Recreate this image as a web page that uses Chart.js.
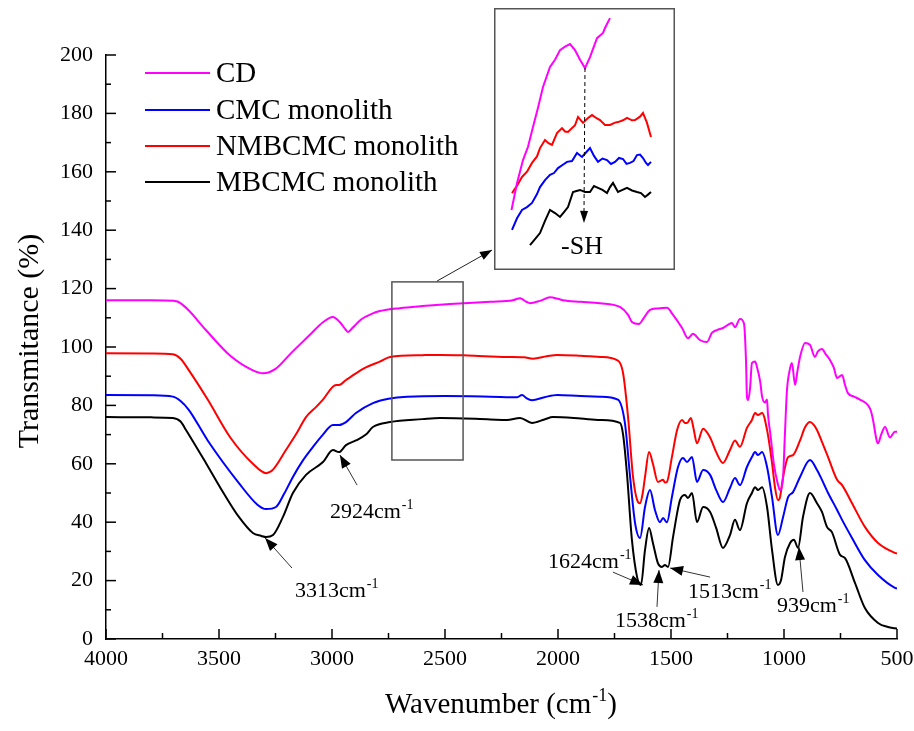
<!DOCTYPE html>
<html><head><meta charset="utf-8">
<script src="https://cdn.jsdelivr.net/npm/chart.js@4"></script>
<style>
html,body{margin:0;padding:0;background:#fff;}
#wrap{position:relative;width:914px;height:731px;overflow:hidden;}
#main{position:absolute;left:0;top:0;}
#inset{position:absolute;left:494px;top:8px;}
</style></head><body>
<div id="wrap"><canvas id="main" width="914" height="731"></canvas><canvas id="inset" width="181" height="262"></canvas></div>
<script>
const FONT = '"Liberation Serif","Times New Roman",serif';

const seriesNames = ['CD', 'CMC monolith', 'NMBCMC monolith', 'MBCMC monolith'];
const seriesColors = ['#ff00ff', '#0000ff', '#ff0000', '#000000'];

const xTickValues = [4000, 3500, 3000, 2500, 2000, 1500, 1000, 500];
const yTickValues = [0, 20, 40, 60, 80, 100, 120, 140, 160, 180, 200];

// CD (magenta)
const cdWn = [4000,3800,3700,3681,3640,3560,3450,3350,3305,3250,3180,3100,3040,2996,2965,2940,2929,2910,2870,2820,2788,2700,2600,2478,2300,2200,2168,2140,2124,2080,2035,2000,1978,1900,1814,1726,1690,1673,1642,1620,1593,1560,1518,1491,1451,1425,1403,1372,1341,1319,1297,1270,1230,1217,1195,1177,1168,1164,1159,1150,1142,1128,1119,1105,1097,1084,1075,1071,1060,1045,1027,1018,1010,1004,996,987,975,965,951,940,929,907,885,863,850,832,815,796,780,765,743,730,717,690,664,628,615,606,590,584,570,553,531,509,500];
const cdT  = [116,116,115.8,115.5,113,106,97,92,91,92.5,98,104,108.5,110.3,108.5,106,105.1,106.5,109.5,111.5,112.3,113.3,114,114.7,115.5,116,116.7,115.5,115,115.8,117,116.5,116,115.5,115,113.7,111,108.6,107.9,110,112.7,113.2,113.4,111,106.5,103,104.5,102.4,101.7,104.8,105.8,106.5,108.2,106.8,109.6,108,95,83,81.8,86,94.5,95,93,88,83,81,82,77,70,60,53,51,52,55.5,70,85,92,94.5,87,92,96.6,101.4,100.7,96.6,98.5,99.3,97.5,95.5,93,89.4,90.4,87,84.2,83,82,80,78,75,68,67,70,72.6,69,71,71];

// CMC monolith (blue)
const cmcWn = [4000,3800,3704,3670,3633,3550,3412,3330,3292,3248,3210,3173,3130,3084,3040,2996,2969,2938,2894,2819,2750,2668,2500,2300,2180,2159,2140,2115,2060,2004,1900,1814,1735,1704,1681,1659,1637,1615,1593,1571,1549,1535,1518,1496,1469,1447,1429,1407,1385,1358,1327,1300,1270,1239,1217,1195,1164,1142,1128,1115,1097,1075,1053,1027,1004,982,960,929,885,854,832,805,765,743,699,642,584,509,500];
const cmcT  = [83.6,83.5,83,81.5,78.4,68,53.4,46,44.5,45.2,50,55.5,61,65.8,70,73.3,73.3,74.3,77.4,80.8,82.3,83,83.2,83,82.8,83.6,82.5,81.8,82.8,83.6,83.2,83,82,74,55.5,39.7,34.6,45.2,51,44.2,40,41.4,40,48.6,58.9,62,60.6,62.3,53.8,57.9,56.2,51,46.9,51.7,55.1,52.7,58.9,62.3,64,63,64,58.9,48.6,35.6,41.8,48.6,50.3,55.5,61.3,57.9,54.5,50,44.2,40.8,34.6,27,21.9,17.5,17.3];

// NMBCMC monolith (red)
const nmbWn = [4000,3800,3704,3670,3633,3550,3450,3350,3292,3261,3204,3160,3115,3070,3040,2982,2969,2938,2894,2850,2789,2743,2600,2522,2400,2226,2150,2111,2050,2004,1900,1814,1739,1712,1690,1668,1645,1637,1625,1615,1597,1580,1558,1535,1527,1518,1496,1473,1451,1438,1429,1412,1400,1385,1358,1327,1300,1270,1239,1217,1195,1164,1142,1128,1115,1097,1075,1053,1040,1027,1018,1004,982,960,929,907,885,870,854,832,805,765,743,699,642,584,509,500];
const nmbT  = [97.9,97.8,97.5,96,92,82,69,60,56.8,58,64.7,70,76,79.5,82,87,87,88.7,91,93,95,96.6,97.2,97.3,97.1,96.6,96.5,96,96.8,97.3,97,96.6,95.5,91,76,55.5,46.8,46.5,50,55.5,64,60,53.8,54.5,53.6,53.8,62.3,71.6,75,74,74,75.7,72,67,72,69,64,60.3,64.7,68,65.8,72.3,75,77.4,76.7,77.4,71.6,60.3,52,47.6,48.5,55.5,62.3,63,68,72.5,74.3,73.5,71.6,67.5,62.3,54.5,52.7,46.5,38.4,32.9,29.5,29.3];

// MBCMC monolith (black)
const mbWn = [4000,3800,3704,3670,3646,3558,3480,3412,3350,3313,3292,3261,3217,3173,3115,3040,2996,2969,2938,2894,2850,2819,2743,2600,2522,2300,2226,2168,2115,2060,2022,1900,1814,1726,1712,1695,1673,1650,1633,1615,1597,1580,1558,1540,1527,1513,1491,1460,1438,1425,1407,1385,1358,1327,1300,1270,1239,1217,1195,1164,1142,1128,1115,1097,1075,1053,1027,1013,996,973,956,938,916,885,854,832,810,788,752,730,686,642,584,540,509,500];
const mbT  = [76,75.9,75.7,74.5,71.6,60.3,50,41.8,36.3,35.3,34.9,35.6,41.8,50,56.2,60.6,64.7,64,66.4,68,70,72.6,74.3,75.3,75.7,75.2,75,75.7,74,75.2,76,75.5,75,74,70,56.8,34,21.2,18.5,30.5,38,32.9,26,24.7,25.3,24.7,34.9,47.6,49.3,48.3,50,40,45.2,43.5,38,31.2,35.6,40.8,37.3,46.5,50,52,51,52,45.2,30.5,18.5,20.2,28,32.9,34,31.2,41.8,50,46.5,43.5,38.4,36.6,28.8,27.7,19.2,10.6,5.5,4.1,3.7,3.6];

// Inset (zoom of the 2735-2420 cm-1 window, relative scale)
const insetCdWn = [2727,2716,2704,2694,2684,2674,2664,2650,2640,2630,2620,2610,2600,2590,2580,2570,2556,2544,2540,2530];
const insetCdT  = [22.7,33,41.9,47,54.6,62,70,77.7,80.5,84.2,85.5,86.5,84.2,80.5,77.3,81.5,88.8,90.8,92.7,96.5];
const insetNmbWn = [2726,2716,2706,2696,2686,2676,2670,2660,2653,2646,2636,2626,2620,2614,2600,2594,2584,2574,2566,2556,2550,2540,2530,2520,2514,2504,2496,2486,2480,2470,2464,2460,2456,2448];
const insetNmbT  = [29.2,32,35.4,37.4,40.8,43.3,46.5,49.6,48.4,47.7,52.3,54.2,52.9,52.7,55.3,58.5,56.2,58.1,59.2,57.9,57.3,55.4,55.4,56.3,56.5,57.2,58.1,57.2,57.3,58.6,60,58.1,56.2,50.8];
const insetCmcWn = [2726,2716,2706,2696,2686,2676,2670,2660,2650,2642,2634,2625,2616,2606,2596,2586,2578,2570,2562,2554,2545,2536,2528,2520,2512,2504,2497,2490,2483,2476,2470,2464,2458,2454,2448];
const insetCmcT  = [15,19.5,22.7,23.8,25.4,28.8,31.5,34.2,36.2,36.9,38.8,40,41.2,41.5,44.6,43.1,44.8,46.5,43.5,41.2,42.5,41.9,40.4,41.2,42.7,42.3,40.4,40.8,41.5,43.8,44,42.7,40.8,40,41.2];
const insetMbWn = [2690,2680,2670,2660,2650,2640,2630,2622,2614,2604,2597,2590,2580,2570,2562,2554,2545,2536,2530,2524,2514,2505,2496,2486,2476,2468,2460,2454,2448];
const insetMbT  = [9.2,11.5,13.8,18.5,22.7,21.5,20,21.9,23.8,29.6,30,30.4,29.6,29.6,31.9,31.2,30.4,29.2,31.5,33.1,29.6,30.4,31.2,30.2,29.6,29.2,27.7,28.6,29.6];

// Peak annotations (data coordinates: [wavenumber, transmittance])
const peakLabels = ['3313', '2924', '1624', '1538', '1513', '939'];
const peakTips   = [[3296,34.6],[2965,63],[1624,18.5],[1553,23.6],[1504,24.3],[934,31.5]];
const peakTails  = [[3177,24.3],[2889,52.7],[1757,22.9],[1562,11],[1327,21.2],[916,16.1]];
const peakTextAt = [[3164,14.4],[3009,41.4],[2044,24.3],[1748,4.1],[1425,14],[1031,9.2]];

const zoomBox = {wnFrom: 2735, wnTo: 2420, tFrom: 61.3, tTo: 122.3};

function pts(xs, ys) { return xs.map((x, i) => ({x: x, y: ys[i]})); }

function drawSup(ctx, base, sup, x, y, size, align) {
  ctx.font = size + 'px ' + FONT;
  const bw = ctx.measureText(base).width;
  const supSize = Math.round(size * 0.62);
  ctx.font = supSize + 'px ' + FONT;
  const sw = ctx.measureText(sup).width;
  let x0 = x;
  if (align === 'center') x0 = x - (bw + sw) / 2;
  ctx.textAlign = 'left';
  ctx.textBaseline = 'alphabetic';
  ctx.font = size + 'px ' + FONT;
  ctx.fillText(base, x0, y);
  ctx.font = supSize + 'px ' + FONT;
  ctx.fillText(sup, x0 + bw + 1, y - size * 0.42);
  return x0 + bw + 1 + sw;
}

function arrowHead(ctx, x1, y1, x2, y2, len, wid) {
  const a = Math.atan2(y2 - y1, x2 - x1);
  ctx.beginPath();
  ctx.moveTo(x2, y2);
  ctx.lineTo(x2 - len * Math.cos(a) + wid * Math.sin(a), y2 - len * Math.sin(a) - wid * Math.cos(a));
  ctx.lineTo(x2 - len * Math.cos(a) - wid * Math.sin(a), y2 - len * Math.sin(a) + wid * Math.cos(a));
  ctx.closePath();
  ctx.fill();
}

const mainDecor = {
  id: 'mainDecor',
  afterDraw(chart) {
    const ctx = chart.ctx, xs = chart.scales.x, ys = chart.scales.y, ca = chart.chartArea;
    ctx.save();
    ctx.strokeStyle = '#000'; ctx.lineWidth = 1.5;
    // x ticks (inward)
    for (let v = 500; v <= 4000; v += 250) {
      const px = xs.getPixelForValue(v);
      const len = (v % 500 === 0) ? 10 : 6;
      ctx.beginPath(); ctx.moveTo(px, ca.bottom); ctx.lineTo(px, ca.bottom - len); ctx.stroke();
    }
    for (let v = 0; v <= 200; v += 10) {
      const py = ys.getPixelForValue(v);
      const len = (v % 20 === 0) ? 10 : 5;
      ctx.beginPath(); ctx.moveTo(ca.left, py); ctx.lineTo(ca.left + len, py); ctx.stroke();
    }
    // legend
    const legendY = [73, 110, 146, 182];
    seriesNames.forEach((n, i) => {
      ctx.strokeStyle = seriesColors[i]; ctx.lineWidth = 2;
      ctx.beginPath(); ctx.moveTo(145, legendY[i]); ctx.lineTo(210, legendY[i]); ctx.stroke();
      ctx.fillStyle = '#000'; ctx.font = '29px ' + FONT;
      ctx.textAlign = 'left'; ctx.textBaseline = 'middle';
      ctx.fillText(n, 216, legendY[i] + 1);
    });
    // zoom rectangle
    const rx1 = xs.getPixelForValue(zoomBox.wnFrom), rx2 = xs.getPixelForValue(zoomBox.wnTo);
    const ry1 = ys.getPixelForValue(zoomBox.tTo), ry2 = ys.getPixelForValue(zoomBox.tFrom);
    ctx.strokeStyle = '#555'; ctx.lineWidth = 1.5;
    ctx.strokeRect(rx1, ry1, rx2 - rx1, ry2 - ry1);
    // arrow to inset
    const ax1 = xs.getPixelForValue(2535), ay1 = ys.getPixelForValue(122.6);
    const ax2 = xs.getPixelForValue(2292), ay2 = ys.getPixelForValue(133.2);
    ctx.strokeStyle = '#222'; ctx.lineWidth = 1;
    ctx.beginPath(); ctx.moveTo(ax1, ay1); ctx.lineTo(ax2, ay2); ctx.stroke();
    ctx.fillStyle = '#000';
    arrowHead(ctx, ax1, ay1, ax2, ay2, 12, 4.5);
    // peak annotations
    peakLabels.forEach((lab, i) => {
      const tx = xs.getPixelForValue(peakTips[i][0]), ty = ys.getPixelForValue(peakTips[i][1]);
      const sx = xs.getPixelForValue(peakTails[i][0]), sy = ys.getPixelForValue(peakTails[i][1]);
      ctx.strokeStyle = '#333'; ctx.lineWidth = 1;
      ctx.beginPath(); ctx.moveTo(sx, sy); ctx.lineTo(tx, ty); ctx.stroke();
      ctx.fillStyle = '#000';
      arrowHead(ctx, sx, sy, tx, ty, 13, 5);
      drawSup(ctx, lab + 'cm', '-1', xs.getPixelForValue(peakTextAt[i][0]), ys.getPixelForValue(peakTextAt[i][1]), 22, 'left');
    });
    // axis titles
    ctx.fillStyle = '#000';
    ctx.save();
    ctx.translate(30, 341); ctx.rotate(-Math.PI / 2);
    ctx.font = '30px ' + FONT; ctx.textAlign = 'center'; ctx.textBaseline = 'middle';
    ctx.fillText('Transmitance (%)', 0, 0);
    ctx.restore();
    ctx.font = '29px ' + FONT;
    const w1 = ctx.measureText('Wavenumber (cm').width;
    ctx.font = '18px ' + FONT;
    const w2 = ctx.measureText('-1').width;
    ctx.font = '29px ' + FONT;
    const w3 = ctx.measureText(')').width;
    const startX = 501 - (w1 + w2 + w3 + 1) / 2;
    const endX = drawSup(ctx, 'Wavenumber (cm', '-1', startX, 713, 29, 'left');
    ctx.font = '29px ' + FONT; ctx.textAlign = 'left';
    ctx.fillText(')', endX, 713);
    ctx.restore();
  }
};

const mainData = {
  datasets: [
    {label: seriesNames[0], data: pts(cdWn, cdT), borderColor: seriesColors[0]},
    {label: seriesNames[1], data: pts(cmcWn, cmcT), borderColor: seriesColors[1]},
    {label: seriesNames[2], data: pts(nmbWn, nmbT), borderColor: seriesColors[2]},
    {label: seriesNames[3], data: pts(mbWn, mbT), borderColor: seriesColors[3]}
  ]
};
mainData.datasets.forEach(d => { d.borderWidth = 2; d.pointRadius = 0; d.fill = false; d.cubicInterpolationMode = 'monotone'; });

new Chart(document.getElementById('main'), {
  type: 'line',
  data: mainData,
  options: {
    responsive: false, animation: false, devicePixelRatio: 1,
    layout: {padding: {left: 36, right: 17, top: 55, bottom: 42}},
    plugins: {legend: {display: false}, tooltip: {enabled: false}},
    scales: {
      x: {
        type: 'linear', reverse: true, min: 500, max: 4000,
        grid: {display: false, drawTicks: false},
        border: {display: true, color: '#000', width: 1.5},
        afterBuildTicks: s => { s.ticks = xTickValues.map(v => ({value: v})); },
        afterFit: s => { s.height = 50; s.paddingLeft = 0; s.paddingRight = 0; },
        ticks: {color: '#000', font: {family: FONT, size: 22}, padding: 7, maxRotation: 0, autoSkip: false,
                callback: v => String(v)}
      },
      y: {
        type: 'linear', min: 0, max: 200,
        grid: {display: false, drawTicks: false},
        border: {display: true, color: '#000', width: 1.5},
        afterBuildTicks: s => { s.ticks = yTickValues.map(v => ({value: v})); },
        afterFit: s => { s.width = 70; s.paddingTop = 0; s.paddingBottom = 0; },
        ticks: {color: '#000', font: {family: FONT, size: 22}, padding: 13, autoSkip: false,
                callback: v => String(v)}
      }
    }
  },
  plugins: [mainDecor]
});

const insetDecor = {
  id: 'insetDecor',
  beforeDraw(chart) {
    const ctx = chart.ctx;
    ctx.save(); ctx.fillStyle = '#fff'; ctx.fillRect(0, 0, chart.width, chart.height); ctx.restore();
  },
  afterDraw(chart) {
    const ctx = chart.ctx, xs = chart.scales.x, ys = chart.scales.y;
    ctx.save();
    const px = xs.getPixelForValue(2581);
    const y1 = ys.getPixelForValue(77.3), y2 = ys.getPixelForValue(18.5);
    ctx.strokeStyle = '#000'; ctx.lineWidth = 1; ctx.setLineDash([4, 3]);
    ctx.beginPath(); ctx.moveTo(px + 0.5, y1); ctx.lineTo(px - 0.5, y2 - 8); ctx.stroke();
    ctx.setLineDash([]); ctx.fillStyle = '#000';
    arrowHead(ctx, px, y1, px - 0.5, y2 + 2, 12, 4);
    ctx.font = '26px ' + FONT; ctx.textAlign = 'center'; ctx.textBaseline = 'alphabetic';
    ctx.fillText('-SH', xs.getPixelForValue(2586), ys.getPixelForValue(5.6));
    ctx.strokeStyle = '#555'; ctx.lineWidth = 1.5;
    ctx.strokeRect(0.75, 0.75, chart.width - 1.5, chart.height - 1.5);
    ctx.restore();
  }
};

const insetData = {
  datasets: [
    {data: pts(insetCdWn, insetCdT), borderColor: seriesColors[0]},
    {data: pts(insetCmcWn, insetCmcT), borderColor: seriesColors[1]},
    {data: pts(insetNmbWn, insetNmbT), borderColor: seriesColors[2]},
    {data: pts(insetMbWn, insetMbT), borderColor: seriesColors[3]}
  ]
};
insetData.datasets.forEach(d => { d.borderWidth = 2; d.pointRadius = 0; d.fill = false; d.tension = 0; });

new Chart(document.getElementById('inset'), {
  type: 'line',
  data: insetData,
  options: {
    responsive: false, animation: false, devicePixelRatio: 1,
    layout: {padding: 0},
    plugins: {legend: {display: false}, tooltip: {enabled: false}},
    scales: {
      x: {type: 'linear', reverse: true, min: 2400, max: 2762, display: false},
      y: {type: 'linear', min: -0.4, max: 100.4, display: false}
    }
  },
  plugins: [insetDecor]
});
</script>
</body></html>
